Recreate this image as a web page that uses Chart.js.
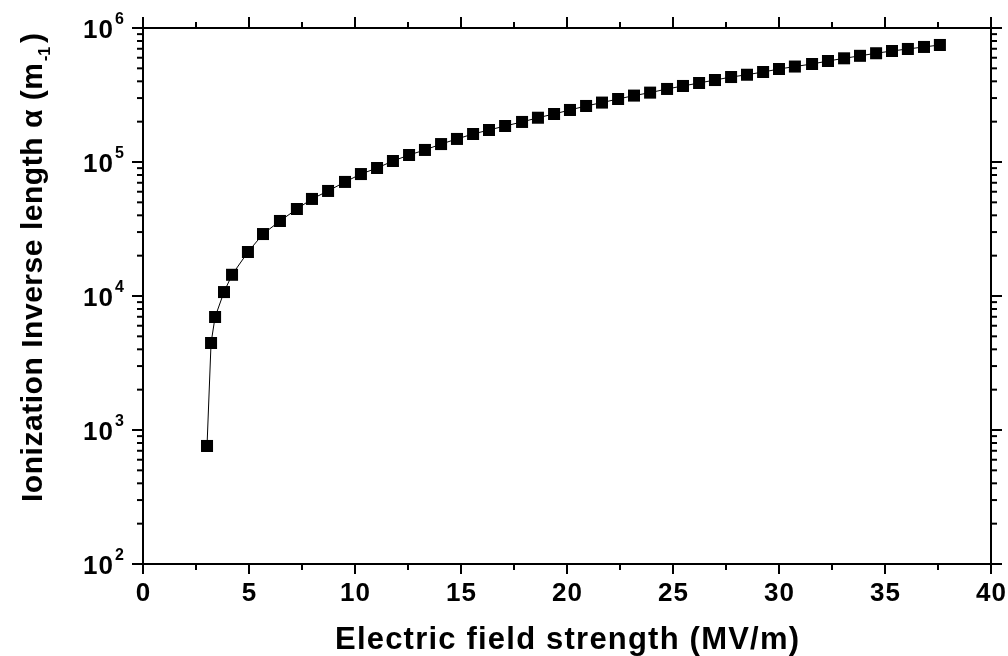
<!DOCTYPE html>
<html>
<head>
<meta charset="utf-8">
<script src="https://cdn.jsdelivr.net/npm/chart.js@4.4.0/dist/chart.umd.min.js"></script>
<style>
	html, body { margin: 0; padding: 0; background: #fff; }
	#wrap { width: 1008px; height: 656px; }
</style>
</head>
<body>
<div id="wrap"><canvas id="c" width="1008" height="656"></canvas></div>
<script>
// data
var fieldStrength = [3.02, 3.21, 3.40, 3.82, 4.20, 4.95, 5.66, 6.46, 7.26, 7.97, 8.73, 9.53, 10.28, 11.04, 11.79, 12.55, 13.30, 14.06, 14.81, 15.57,
	16.32, 17.08, 17.88, 18.63, 19.39, 20.14, 20.90, 21.65, 22.41, 23.16, 23.92, 24.72, 25.47, 26.23, 26.98, 27.74, 28.49, 29.25, 30.00, 30.75,
	31.56, 32.31, 33.07, 33.82, 34.58, 35.33, 36.08, 36.84, 37.59];
var alpha = [760, 4460, 6970, 10700, 14400, 21300, 29000, 36300, 44600, 53000, 60800, 71000, 81300, 90200, 101700, 112800, 123000, 136100, 148600, 161800,
	173300, 185700, 199000, 214000, 228200, 244500, 261900, 277600, 295300, 313000, 329400, 350800, 369300, 388700, 409000, 430600, 447900, 469500, 494200, 515700,
	538700, 567000, 594000, 620000, 648000, 673700, 697500, 722000, 747000];

var xTicks = [0, 5, 10, 15, 20, 25, 30, 35, 40];
var xMinorTicks = [2.5, 7.5, 12.5, 17.5, 22.5, 27.5, 32.5, 37.5];
var yDecades = [2, 3, 4, 5, 6];
var xTitle = 'Electric field strength (MV/m)';
var yTitle = 'Ionization Inverse length \u03b1 (m';
var yTitleSup = '-1';
var yTitleEnd = ')';

var FONT = "'Liberation Sans', Arial, sans-serif";

function line(ctx, x1, y1, x2, y2) {
	ctx.beginPath();
	ctx.moveTo(x1, y1);
	ctx.lineTo(x2, y2);
	ctx.stroke();
}

// fit text to a given length via letter spacing
function fitSpacing(ctx, text, len) {
	ctx.letterSpacing = '0px';
	var w = ctx.measureText(text).width;
	return Math.max(0, (len - w) / (text.length - 1));
}

var originAxes = {
	id: 'originAxes',
	afterDraw: function (chart) {
		var ctx = chart.ctx, a = chart.chartArea;
		var xs = chart.scales.x, ys = chart.scales.y;
		ctx.save();
		ctx.strokeStyle = '#000';
		ctx.fillStyle = '#000';
		ctx.lineWidth = 2;
		ctx.strokeRect(a.left, a.top, a.right - a.left, a.bottom - a.top);

		// x ticks, bottom and top
		xTicks.forEach(function (v) {
			var px = xs.getPixelForValue(v);
			line(ctx, px, a.bottom, px, a.bottom + 10);
			line(ctx, px, a.top, px, a.top - 11);
		});
		xMinorTicks.forEach(function (v) {
			var px = xs.getPixelForValue(v);
			line(ctx, px, a.bottom, px, a.bottom + 6);
			line(ctx, px, a.top, px, a.top - 6);
		});

		// y ticks, left and right
		yDecades.forEach(function (d, i) {
			var py = ys.getPixelForValue(Math.pow(10, d));
			line(ctx, a.left, py, a.left - 11, py);
			line(ctx, a.right, py, a.right + 11, py);
			if (i < yDecades.length - 1) {
				for (var m = 2; m <= 9; m++) {
					var pm = ys.getPixelForValue(m * Math.pow(10, d));
					line(ctx, a.left, pm, a.left - 6, pm);
					line(ctx, a.right, pm, a.right + 6, pm);
				}
			}
		});

		// x tick labels
		ctx.font = 'bold 26px ' + FONT;
		ctx.letterSpacing = '1px';
		ctx.textAlign = 'center';
		ctx.textBaseline = 'alphabetic';
		xTicks.forEach(function (v) {
			ctx.fillText(String(v), xs.getPixelForValue(v) + 0.5, a.bottom + 37);
		});

		// y tick labels 10^n
		yDecades.forEach(function (d) {
			var py = ys.getPixelForValue(Math.pow(10, d));
			ctx.font = 'bold 26px ' + FONT;
			ctx.letterSpacing = '1px';
			ctx.textAlign = 'right';
			ctx.fillText('10', a.left - 29, py + 10);
			ctx.font = 'bold 16px ' + FONT;
			ctx.letterSpacing = '0px';
			ctx.textAlign = 'left';
			ctx.fillText(String(d), a.left - 28, py - 4);
		});

		// x title
		ctx.font = 'bold 31px ' + FONT;
		var sp = fitSpacing(ctx, xTitle, 464);
		ctx.letterSpacing = sp + 'px';
		ctx.textAlign = 'left';
		ctx.fillText(xTitle, (a.left + a.right) / 2 - 232, 649);

		// y title, rotated
		ctx.save();
		ctx.translate(42, 502);
		ctx.rotate(-Math.PI / 2);
		ctx.font = 'bold 30px ' + FONT;
		sp = fitSpacing(ctx, yTitle, 439);
		ctx.letterSpacing = sp + 'px';
		ctx.textAlign = 'left';
		ctx.fillText(yTitle, 0, 0);
		ctx.font = 'bold 16px ' + FONT;
		ctx.letterSpacing = '0px';
		ctx.fillText(yTitleSup, 441, 8);
		ctx.font = 'bold 30px ' + FONT;
		ctx.fillText(yTitleEnd, 459, 0);
		ctx.restore();

		ctx.restore();
	}
};

var points = fieldStrength.map(function (e, i) { return { x: e, y: alpha[i] }; });

new Chart(document.getElementById('c'), {
	type: 'scatter',
	data: {
		datasets: [{
			data: points,
			showLine: true,
			borderColor: '#000',
			borderWidth: 1,
			backgroundColor: '#000',
			pointStyle: 'rect',
			pointRadius: 8.5,
			pointBorderWidth: 0,
			pointBackgroundColor: '#000',
			clip: false
		}]
	},
	options: {
		responsive: false,
		devicePixelRatio: 1,
		animation: false,
		layout: { padding: { left: 143, top: 28, right: 17, bottom: 92 } },
		plugins: { legend: { display: false }, tooltip: { enabled: false } },
		scales: {
			x: { type: 'linear', min: 0, max: 40, display: false },
			y: { type: 'logarithmic', min: 100, max: 1000000, display: false }
		}
	},
	plugins: [originAxes]
});
</script>
</body>
</html>
